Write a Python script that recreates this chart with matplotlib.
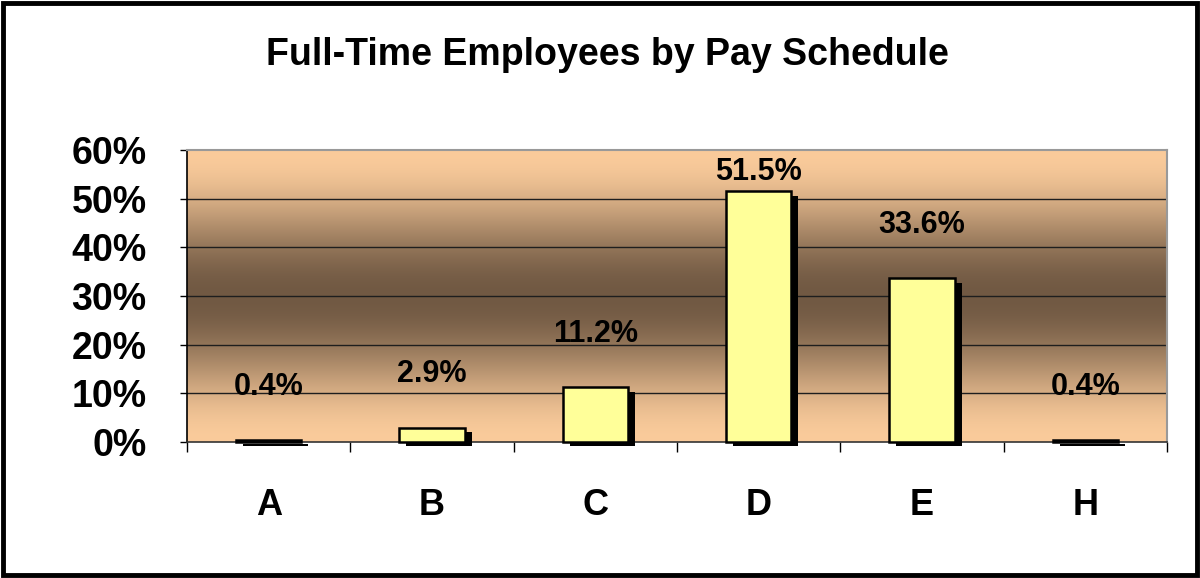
import numpy as np
import matplotlib
matplotlib.use("Agg")
import matplotlib.pyplot as plt
from matplotlib.colors import LinearSegmentedColormap
from matplotlib.patches import Rectangle
import matplotlib.patheffects as pe

categories = ["A", "B", "C", "D", "E", "H"]
values = [0.4, 2.9, 11.2, 51.5, 33.6, 0.4]
yticks = [0, 10, 20, 30, 40, 50, 60]
title = "Full-Time Employees by Pay Schedule"

plt.rcParams['font.family'] = ['Liberation Sans', 'DejaVu Sans']
plt.rcParams['font.weight'] = 'bold'

fig = plt.figure(figsize=(12, 5.78), dpi=100)
ax = fig.add_axes([187/1200, 136/578, 980/1200, 292/578])

n = len(categories)
x = np.arange(n)
ax.set_xlim(-0.5, n - 0.5)
ax.set_ylim(0, 60)

# gradient background: light - dark - light with smooth (cosine) transition
light = np.array([250, 203, 155]) / 255
dark = np.array([113, 89, 67]) / 255
u = np.linspace(0, 1, 512)
dist = 1 - np.abs(2 * u - 1)          # 0 at edges, 1 in the middle
t = (1 - np.cos(np.pi * dist)) / 2
img = light[None, :] * (1 - t[:, None]) + dark[None, :] * t[:, None]
ax.imshow(img[:, None, :], extent=[-0.5, n - 0.5, 0, 60], aspect='auto',
          origin='lower', zorder=0, interpolation='bilinear')

for tk in yticks[1:-1]:
    ax.axhline(tk, color='#1e1e1e', lw=1.0, zorder=1)

bars = ax.bar(x, values, width=0.4, color='#FFFF99', edgecolor='black',
              linewidth=1.8, zorder=3, clip_on=False)
for b in bars:
    b.set_path_effects([pe.SimplePatchShadow(offset=(5, -3), shadow_rgbFace='black', alpha=1.0),
                        pe.Normal()])

for xi, v in zip(x, values):
    ly = min(v + 11, 55.4)
    ax.text(xi, ly, f"{v:.1f}%", ha='center', va='center', fontsize=22,
            fontweight='bold', zorder=4)

ax.set_yticks(yticks)
ax.set_yticklabels([f"{tk}%" for tk in yticks], fontsize=27, fontweight='bold')
ax.tick_params(axis='y', length=5, width=1, pad=24, direction='out')

ax.set_xticks(x)
ax.set_xticklabels(categories, fontsize=26, fontweight='bold')
ax.set_xticks(np.arange(-0.5, n), minor=True)
ax.tick_params(axis='x', which='major', length=0, pad=33)
ax.tick_params(axis='x', which='minor', length=7, width=1, direction='out')

for s in ['top', 'right']:
    ax.spines[s].set_color('#999999')
    ax.spines[s].set_linewidth(1.5)
ax.spines['left'].set_color('black')
ax.spines['left'].set_linewidth(1.2)
ax.spines['bottom'].set_color('#333333')
ax.spines['bottom'].set_linewidth(1.2)

fig.text(607/1200, 1 - 55/578, title, ha='center', va='center', fontsize=27,
         fontweight='bold')

fig.patches.append(Rectangle((3/1200, 3/578), 1194/1200, 572/578, transform=fig.transFigure,
                             fill=False, edgecolor='black', linewidth=3.5))

fig.savefig("out.png", dpi=100)
